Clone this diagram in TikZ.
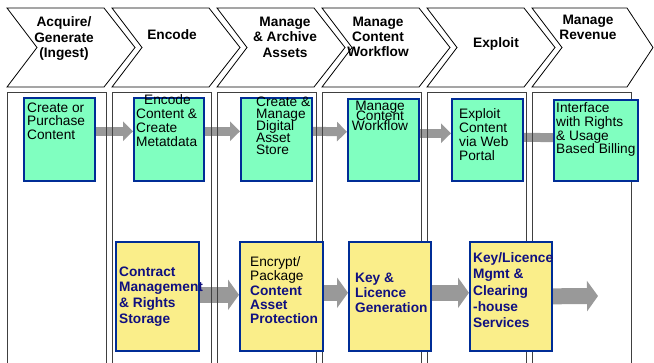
\documentclass[tikz,border=0pt]{standalone}
\usepackage{fontspec}
\setmainfont{Liberation Sans}
\usetikzlibrary{arrows.meta,backgrounds}

\definecolor{mint}{RGB}{128,255,192}
\definecolor{pale}{RGB}{250,238,138}
\definecolor{boxblue}{RGB}{0,45,150}
\definecolor{navytext}{RGB}{16,16,128}
\definecolor{flowgray}{RGB}{153,153,153}

\newcommand\txtsize[1]{\fontsize{13.7bp}{#1}\selectfont}
\lineskiplimit=-50bp

\begin{document}
\begin{tikzpicture}[x=1bp, y=-1bp]
\tikzstyle{stage}=[draw=black, line width=0.8bp, fill=white]
\tikzstyle{title}=[anchor=north, inner sep=0pt, align=center, font=\bfseries\txtsize{15.5bp}]
\tikzstyle{lane}=[draw=black!75, line width=1.2bp, anchor=north west, inner sep=0pt, minimum width=99bp, minimum height=290bp]
\tikzstyle{box}=[draw=boxblue, line width=1.6bp, anchor=north west, inner sep=0pt]
\tikzstyle{task}=[box, fill=mint, minimum width=71bp, minimum height=83bp]
\tikzstyle{prot}=[box, fill=pale, minimum width=83bp, minimum height=109bp]
\tikzstyle{blank}=[anchor=north west, inner sep=0pt, align=left, font=\txtsize{14bp}]
\tikzstyle{keytext}=[blank, text=navytext]
\tikzstyle{flow}=[draw=flowgray, line width=9bp, -{Triangle[width=19bp, length=10bp]}]
\tikzstyle{bigflow}=[draw=flowgray, line width=16bp, -{Triangle[width=30bp, length=11bp]}]

\useasboundingbox (0,0) rectangle (654,362);
\clip (0,0) rectangle (654,362);

% value chain stages
\draw[stage] (7,8) -- ++(97,0) -- ++(31,39.5) -- ++(-31,39.5) -- ++(-97,0) -- ++(30,-39.5) -- cycle;
\draw[stage] (112,8) -- ++(97,0) -- ++(31,39.5) -- ++(-31,39.5) -- ++(-97,0) -- ++(30,-39.5) -- cycle;
\draw[stage] (217,8) -- ++(97,0) -- ++(31,39.5) -- ++(-31,39.5) -- ++(-97,0) -- ++(30,-39.5) -- cycle;
\draw[stage] (322,8) -- ++(97,0) -- ++(31,39.5) -- ++(-31,39.5) -- ++(-97,0) -- ++(30,-39.5) -- cycle;
\draw[stage] (427,8) -- ++(97,0) -- ++(31,39.5) -- ++(-31,39.5) -- ++(-97,0) -- ++(30,-39.5) -- cycle;
\draw[stage] (532,8) -- ++(95,0) -- ++(26,39.5) -- ++(-26,39.5) -- ++(-95,0) -- ++(30,-39.5) -- cycle;

\node[title] (acquire) at (64,16.5) {Acquire/\\Generate\\(Ingest)};
\node[title] (encoding) at (172,29.5) {Encode};
\node[title] (archive) at (285,16.5) {Manage\\\& Archive\\Assets};
\node[title, font=\bfseries\txtsize{15bp}] (manage) at (378,16.5) {Manage\\Content\\Workflow};
\node[title] (exploiting) at (496,37.5) {Exploit};
\node[title, font=\bfseries\txtsize{15bp}] (revenue) at (588,14.5) {Manage\\Revenue};

% swim lanes
\node[lane] (lane1) at (7,92) {};
\node[lane] (lane2) at (112,92) {};
\node[lane] (lane3) at (217,92) {};
\node[lane] (lane4) at (322,92) {};
\node[lane] (lane5) at (427,92) {};
\node[lane] (lane6) at (532,92) {};

% content row
\node[task] (create) at (23,97) {};
\node[task, minimum width=70bp] (encode) at (133,97) {};
\node[task] (store) at (240,97) {};
\node[task, minimum height=82bp] (workflow) at (347,98) {};
\node[task, minimum height=82bp] (exploit) at (451,98) {};
\node[task, minimum width=84bp, minimum height=81bp] (billing) at (553,99) {};

\node[blank, font=\txtsize{13.5bp}] (createtxt) at (27,102.5) {Create or\\Purchase\\Content};
\node[blank] (encodetxt) at (136,94.5) {\hspace*{8bp}Encode\\Content \&\\Create\\Metatdata};
\node[blank, font=\txtsize{12bp}] (storetxt) at (256,96.5) {Create \&\\Manage\\Digital\\Asset\\Store};
\node[blank, anchor=north, align=center, font=\txtsize{10bp}] (workflowtxt) at (380,100.5) {Manage\\Content\\Workflow};
\node[blank] (exploittxt) at (459,108.5) {Exploit\\Content\\via Web\\Portal};
\node[blank, font=\txtsize{13.7bp}] (billingtxt) at (556,102.5) {Interface\\with Rights\\\& Usage\\Based Billing};

% protection row
\node[prot] (contract) at (115,241) {};
\node[prot] (encrypt) at (239,241) {};
\node[prot, minimum width=82bp] (keygen) at (348,241) {};
\node[prot, minimum width=82bp] (clearing) at (469,241) {};
\coordinate (outflow) at (598,296);

\node[keytext, font=\bfseries\txtsize{15.7bp}] (contracttxt) at (119,266.5) {Contract\\Management\\\& Rights\\Storage};
\node[blank, font=\txtsize{14.3bp}] (encrypttxt) at (250,256.5) {Encrypt/\\Package\\\textbf{\textcolor{navytext}{Content}}\\\textbf{\textcolor{navytext}{Asset}}\\\textbf{\textcolor{navytext}{Protection}}};
\node[keytext, font=\bfseries\txtsize{15bp}] (keygentxt) at (355,272.5) {Key \&\\Licence\\Generation};
\node[keytext, font=\bfseries\txtsize{16.3bp}] (clearingtxt) at (473,252.5) {Key/Licence\\Mgmt \&\\Clearing\\-house\\Services};

% flows
\begin{scope}[on background layer]
\draw[flow] ([yshift=8bp]create.east) -- ([yshift=8bp]encode.west);
\draw[flow] ([yshift=8bp]encode.east) -- ([yshift=8bp]store.west);
\draw[flow] ([yshift=8bp]store.east) -- ([yshift=8bp]workflow.west);
\draw[flow] ([yshift=6.5bp]workflow.east) -- ([yshift=6.5bp]exploit.west);
\draw[flow] ([yshift=2.5bp]exploit.east) -- ([xshift=14bp, yshift=2.5bp]billing.west);
\draw[bigflow] ([yshift=1.5bp]contract.east) -- ([yshift=1.5bp]encrypt.west);
\draw[bigflow] ([yshift=3.5bp]encrypt.east) -- ([yshift=3.5bp]keygen.west);
\draw[bigflow] ([yshift=3.5bp]keygen.east) -- ([yshift=3.5bp]clearing.west);
\draw[bigflow] (clearing.east) -- (outflow);
\end{scope}
\end{tikzpicture}
\end{document}
